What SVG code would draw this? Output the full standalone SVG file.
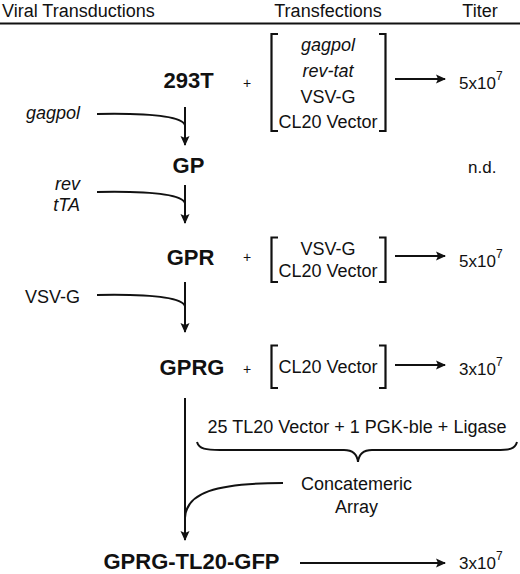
<svg xmlns="http://www.w3.org/2000/svg" width="520" height="574" viewBox="0 0 520 574">
<defs>
<style>
text{font-family:"Liberation Sans",Arial,sans-serif;fill:#111}
.h{font-size:18px}
.n{font-size:22px;font-weight:bold;text-anchor:middle}
.t{font-size:18px;text-anchor:middle}
.i{font-style:italic}
.l{font-size:18px;text-anchor:end}
.p{font-size:14px;text-anchor:middle}
.ti{font-size:17px}
.sup{font-size:12px}
.ln{fill:none;stroke:#111;stroke-width:2}
.br{fill:none;stroke:#111;stroke-width:2.2}
</style>
<marker id="ah" viewBox="0 0 10 10" refX="9" refY="5" markerWidth="10" markerHeight="10" markerUnits="userSpaceOnUse" orient="auto">
<path d="M0,0.5 L10,5 L0,9.5 L2,5 Z" fill="#111"/>
</marker>
</defs>
<rect width="520" height="574" fill="#fff"/>
<g id="header">
<text class="h" x="2" y="17">Viral Transductions</text>
<text class="h" x="328" y="17" text-anchor="middle">Transfections</text>
<text class="h" x="480" y="17" text-anchor="middle">Titer</text>
<line x1="0" y1="23.5" x2="520" y2="23.5" stroke="#111" stroke-width="2"/>
</g>
<g id="n293T">
<text class="n" x="188.5" y="88">293T</text>
<text class="p" x="247" y="88">+</text>
<path class="br" d="M278,34 H271.5 V131 H278 M379,34 H385.5 V131 H379"/>
<text class="t i" x="328" y="51">gagpol</text>
<text class="t i" x="328" y="77">rev-tat</text>
<text class="t" x="328" y="103">VSV-G</text>
<text class="t" x="328" y="128">CL20 Vector</text>
<text class="ti" x="459" y="89">5x10<tspan class="sup" dy="-9">7</tspan></text>
</g>
<g id="nGP">
<text class="n" x="188.5" y="173">GP</text>
<text class="ti" x="468" y="173">n.d.</text>
</g>
<g id="nGPR">
<text class="n" x="190.5" y="265">GPR</text>
<text class="p" x="247" y="262">+</text>
<path class="br" d="M278,237.5 H271.5 V282 H278 M379,237.5 H385.5 V282 H379"/>
<text class="t" x="328" y="255">VSV-G</text>
<text class="t" x="328" y="277">CL20 Vector</text>
<text class="ti" x="459" y="267">5x10<tspan class="sup" dy="-9">7</tspan></text>
</g>
<g id="nGPRG">
<text class="n" x="192" y="375">GPRG</text>
<text class="p" x="247" y="374">+</text>
<path class="br" d="M278,345.5 H271.5 V388 H278 M379,345.5 H385.5 V388 H379"/>
<text class="t" x="328" y="373">CL20 Vector</text>
<text class="ti" x="459" y="375">3x10<tspan class="sup" dy="-9">7</tspan></text>
</g>
<g id="nFinal">
<text class="n" x="191.5" y="569">GPRG-TL20-GFP</text>
<text class="ti" x="459" y="569">3x10<tspan class="sup" dy="-9">7</tspan></text>
</g>
<g id="inputs">
<text class="l i" x="80" y="119">gagpol</text>
<text class="l i" x="80" y="190">rev</text>
<text class="l i" x="80" y="211">tTA</text>
<text class="l" x="80" y="303">VSV-G</text>
<text class="t" x="357" y="433">25 TL20 Vector + 1 PGK-ble + Ligase</text>
<text class="t" x="356.5" y="490">Concatemeric</text>
<text class="t" x="356.5" y="513">Array</text>
</g>
<g id="connectors">
<line class="ln" x1="185" y1="107" x2="185" y2="145" marker-end="url(#ah)"/>
<path class="ln" d="M97,114 C150,113 181,116 185,125"/>
<line class="ln" x1="185" y1="185" x2="185" y2="223" marker-end="url(#ah)"/>
<path class="ln" d="M97,192 C150,191 181,194 185,203"/>
<line class="ln" x1="185" y1="282" x2="185" y2="332" marker-end="url(#ah)"/>
<path class="ln" d="M97,295 C150,294 181,297 185,306"/>
<line class="ln" x1="185" y1="398" x2="185" y2="540" marker-end="url(#ah)"/>
<path class="ln" d="M283,483 C215,483 186,493 185,518"/>
<line class="ln" x1="395" y1="79" x2="445" y2="79" marker-end="url(#ah)"/>
<line class="ln" x1="395" y1="256" x2="445" y2="256" marker-end="url(#ah)"/>
<line class="ln" x1="395" y1="365" x2="445" y2="365" marker-end="url(#ah)"/>
<line class="ln" x1="300" y1="563" x2="445" y2="563" marker-end="url(#ah)"/>
<path class="ln" d="M197,442 C199,449 206,450 220,450 L344,450 C352,450 357,453 358,462 C359,453 364,450 372,450 L496,450 C510,450 515,449 517,442"/>
</g>
</svg>
